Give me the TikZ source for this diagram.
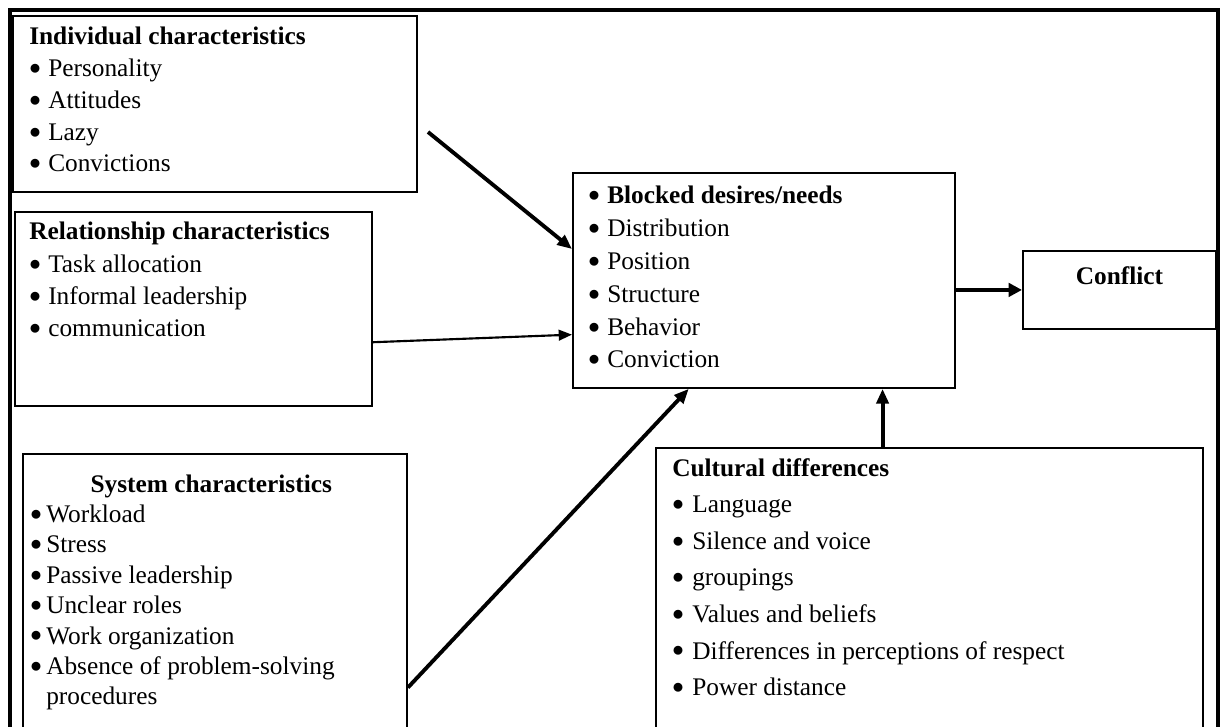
\documentclass[tikz,border=0pt]{standalone}
\usepackage{fontspec}
\setmainfont{Liberation Serif}
\usetikzlibrary{arrows.meta,calc}

\newcommand{\itm}[2][14.25pt]{\par\makebox[#1][l]{\raisebox{1.6pt}{$\bullet$}}#2}
\newcommand{\factorlist}[2]{\begin{minipage}[t]{#1}#2\end{minipage}}

\begin{document}
\begin{tikzpicture}[
    x=0.75pt, y=-0.75pt,
    factor/.style={draw, line width=1.4pt, anchor=north west, inner sep=0pt},
    txt/.style={anchor=base west, inner sep=0pt, font=\fontsize{19}{23.8}\selectfont},
    arrow/.style={-{Triangle[length=11pt,width=9pt]}, line width=2.9pt}
]
\useasboundingbox (0,0) rectangle (1220,727);
\clip (0,0) rectangle (1220,727);

% Outer frame
\draw[line width=2.3pt] (10,10) rectangle (1218,770);

% Boxes
\node[factor, minimum width=303pt, minimum height=132pt] (ind) at (12,15) {};
\node[factor, minimum width=267.75pt, minimum height=145.5pt] (rel) at (14,211) {};
\node[factor, minimum width=288pt, minimum height=222.75pt] (sys) at (22,453) {};
\node[factor, minimum width=286.5pt, minimum height=161.25pt] (blk) at (572,172) {};
\node[factor, minimum width=144.75pt, minimum height=58.5pt] (conf) at (1022,250) {};
\node[factor, minimum width=410.25pt, minimum height=227.25pt] (cul) at (655,447) {};

% Box texts
\node[txt] (indtxt) at ([shift={(17,30)}]ind.north west) {\factorlist{280pt}{%
  \textbf{Individual characteristics}
  \itm{Personality}
  \itm{Attitudes}
  \itm{Lazy}
  \itm{Convictions}}};
\node[txt, font=\fontsize{19}{24.2}\selectfont] (reltxt) at ([shift={(15,29)}]rel.north west) {\factorlist{250pt}{%
  \textbf{Relationship characteristics}
  \itm{Task allocation}
  \itm{Informal leadership}
  \itm{communication}}};
\node[txt, font=\fontsize{19}{22.8}\selectfont] (systxt) at ([shift={(8,39)}]sys.north west) {\factorlist{271.5pt}{%
  \makebox[\linewidth][c]{\textbf{System characteristics}}
  \itm[12pt]{Workload}
  \itm[12pt]{Stress}
  \itm[12pt]{Passive leadership}
  \itm[12pt]{Unclear roles}
  \itm[12pt]{Work organization}
  \itm[12pt]{Absence of problem-solving}
  \par\hspace*{12pt}procedures}};
\node[txt, font=\fontsize{19}{24.6}\selectfont] (blktxt) at ([shift={(16,32)}]blk.north west) {\factorlist{270pt}{%
  {\bfseries\makebox[14.25pt][l]{\raisebox{1.6pt}{$\bullet$}}Blocked desires/needs}
  \itm{Distribution}
  \itm{Position}
  \itm{Structure}
  \itm{Behavior}
  \itm{Conviction}}};
\node[txt, font=\fontsize{19}{27.45}\selectfont] (cultxt) at ([shift={(17,29)}]cul.north west) {\factorlist{390pt}{%
  \textbf{Cultural differences}
  \itm[15pt]{Language}
  \itm[15pt]{Silence and voice}
  \itm[15pt]{groupings}
  \itm[15pt]{Values and beliefs}
  \itm[15pt]{Differences in perceptions of respect}
  \itm[15pt]{Power distance}}};
\node[anchor=base, inner sep=0pt, font=\fontsize{19}{23}\selectfont\bfseries] (conftxt) at ($(conf.north)+(0,35)$) {Conflict};

% Arrows into the blocked needs
\coordinate (indtail) at (428,132);
\draw[arrow] (indtail) -- ($(blk.north west)!0.355!(blk.south west)$);
\draw[arrow, line width=1.6pt, -{Triangle[length=10pt,width=8pt]}] ($(rel.north east)!0.67!(rel.south east)$) -- ($(blk.north west)!0.75!(blk.south west)$);
\draw[arrow] ($(sys.north east)!0.785!(sys.south east)$) -- ($(blk.south west)!0.304!(blk.south east)$);
\coordinate (upfoot) at ($(blk.south west)!0.809!(blk.south east)$);
\draw[arrow, line width=3pt] (upfoot |- cul.north) -- (upfoot);

% Arrow to conflict
\draw[arrow, line width=3.6pt, -{Triangle[length=10pt,width=10pt]}] (blk.east |- conf.west) -- (conf.west);
\end{tikzpicture}
\end{document}
